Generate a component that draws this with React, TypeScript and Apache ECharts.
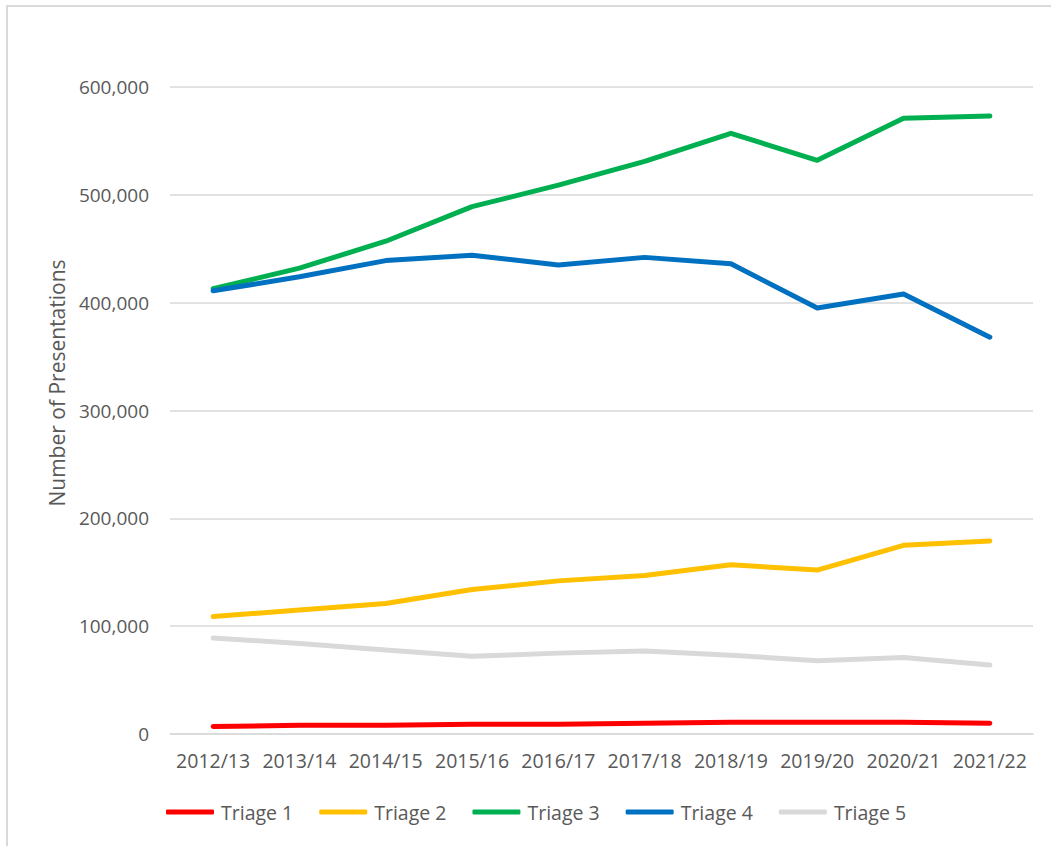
import React, { useEffect, useRef } from "react";
import * as echarts from "echarts";

const categories = ["2012/13", "2013/14", "2014/15", "2015/16", "2016/17", "2017/18", "2018/19", "2019/20", "2020/21", "2021/22"];
const triage1 = [7000, 8000, 8000, 9000, 9000, 10000, 11000, 11000, 11000, 10000];
const triage2 = [109000, 115000, 121000, 134000, 142000, 147000, 157000, 152000, 175000, 179000];
const triage3 = [413000, 432000, 457000, 489000, 509000, 531000, 557000, 532000, 571000, 573000];
const triage4 = [411000, 424000, 439000, 444000, 435000, 442000, 436000, 395000, 408000, 368000];
const triage5 = [89000, 84000, 78000, 72000, 75000, 77000, 73000, 68000, 71000, 64000];

const seriesNames = ["Triage 1", "Triage 2", "Triage 3", "Triage 4", "Triage 5"];
const seriesColors = ["#FF0000", "#FFC000", "#00B050", "#0070C0", "#D9D9D9"];
const seriesData = [triage1, triage2, triage3, triage4, triage5];

const FONT = "'Open Sans', sans-serif";
const TEXT = "#595959";

export default function App() {
  const ref = useRef<HTMLDivElement>(null);
  useEffect(() => {
    if (!ref.current) return;
    const chart = echarts.init(ref.current, null, { renderer: "svg" });
    chart.setOption({
      animation: false,
      backgroundColor: "#ffffff",
      textStyle: { fontFamily: FONT },
      grid: { left: 170, right: 18, top: 87, bottom: 112, containLabel: false },
      xAxis: {
        type: "category",
        data: categories,
        boundaryGap: true,
        axisLine: { show: true, lineStyle: { color: "#D9D9D9", width: 1.5 } },
        axisTick: { show: false },
        axisLabel: { color: TEXT, fontSize: 19.5, fontFamily: FONT, margin: 16, interval: 0 },
      },
      yAxis: {
        type: "value",
        min: 0,
        max: 600000,
        interval: 100000,
        axisLine: { show: false },
        axisTick: { show: false },
        splitLine: { lineStyle: { color: "#D9D9D9", width: 1.5 } },
        axisLabel: {
          color: TEXT,
          fontSize: 19,
          fontFamily: FONT,
          margin: 21,
          formatter: (v: number) => v.toLocaleString("en-US"),
        },
      },
      legend: {
        left: 161,
        top: 797,
        icon: "roundRect",
        itemWidth: 48,
        itemHeight: 5,
        itemGap: 26,
        textStyle: { color: TEXT, fontSize: 19.5, fontFamily: FONT, padding: [0, 0, 0, 2] },
        data: seriesNames,
      },
      graphic: [
        {
          type: "rect",
          shape: { x: 7, y: 6, width: 1200, height: 1000 },
          style: { fill: "none", stroke: "#D9D9D9", lineWidth: 2 },
          silent: true,
        },
        {
          type: "text",
          x: 57,
          y: 383,
          rotation: Math.PI / 2,
          style: {
            text: "Number of Presentations",
            fill: TEXT,
            font: `21px ${FONT}`,
            align: "center",
            verticalAlign: "middle",
          },
        },
      ],
      series: seriesNames.map((name, i) => ({
        name,
        type: "line",
        data: seriesData[i],
        symbol: "none",
        showSymbol: false,
        smooth: false,
        itemStyle: { color: seriesColors[i] },
        lineStyle: { color: seriesColors[i], width: 5, cap: "round", join: "round" },
        z: i === 4 ? 1 : 2,
      })),
    });
    return () => chart.dispose();
  }, []);
  return (
    <div
      ref={ref}
      style={{ position: "fixed", left: 0, top: 0, width: 1051, height: 846 }}
    />
  );
}
